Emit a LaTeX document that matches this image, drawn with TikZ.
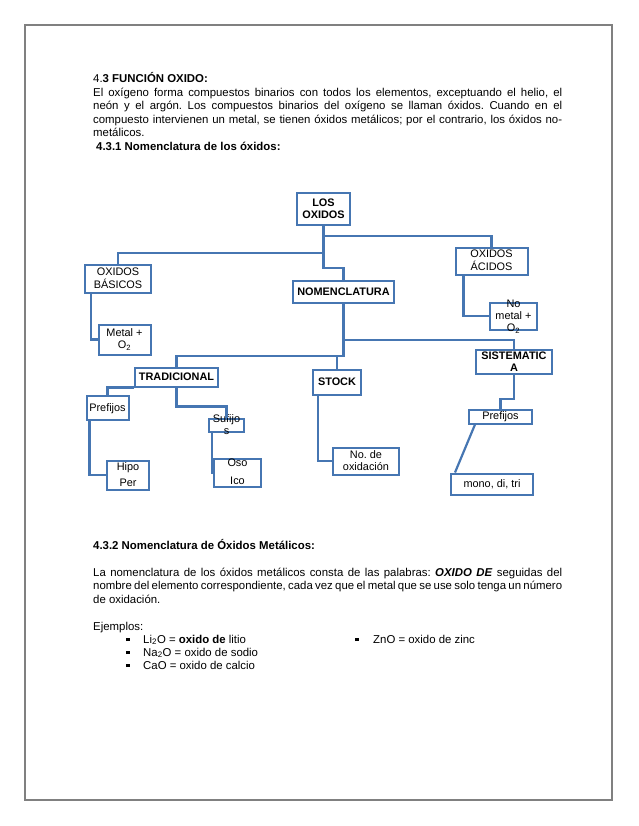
\documentclass[tikz,border=0pt]{standalone}
\usepackage{fontspec}
\setmainfont{Liberation Sans}
\frenchspacing
\definecolor{lb}{RGB}{70,118,178}
\definecolor{pg}{RGB}{128,128,128}
\newcommand\tx[2][-3.8pt]{\smash{\raisebox{#1}{\begin{tabular}[c]{@{}c@{}}#2\end{tabular}}}}
\newcommand\bul{\rule[2pt]{3.4pt}{3.4pt}}
\begin{document}
\begin{tikzpicture}[x=1pt,y=-1pt,
  bx/.style={draw=lb, line width=2pt, fill=white, inner sep=0pt,
    font=\fontsize{10.9}{12}\selectfont},
  cn/.style={draw=lb, line width=2.2pt},
  bt/.style={anchor=base west, inner sep=0pt, font=\fontsize{11.4}{13.7}\selectfont}]
\useasboundingbox (0,0) rectangle (638,826);
\draw[pg, line width=1.3pt] (25,25) rectangle (612,800);

% text, top
\node[bt] (h1) at (93,83) {4.\textbf{3 FUNCIÓN OXIDO:}};
\node[bt] (p1) at (93,96.5) {\makebox[469pt][s]{El oxígeno forma compuestos binarios con todos los elementos, exceptuando el helio, el}};
\node[bt] (p2) at (93,110) {\makebox[469pt][s]{neón y el argón. Los compuestos binarios del oxígeno se llaman óxidos. Cuando en el}};
\node[bt] (p3) at (93,123.5) {\makebox[469pt][s]{compuesto intervienen un metal, se tienen óxidos metálicos; por el contrario, los óxidos no-}};
\node[bt] (p4) at (93,137) {metálicos.};
\node[bt] (h2) at (96,151) {\textbf{4.3.1 Nomenclatura de los óxidos:}};

% diagram nodes
\node[bx, minimum width=53, minimum height=32] (los) at (323.5,209) {\tx{\textbf{LOS}\\\textbf{OXIDOS}}};
\node[bx, minimum width=66, minimum height=28] (bas) at (118,279) {\tx{OXIDOS\\BÁSICOS}};
\node[bx, minimum width=72, minimum height=27] (acid) at (491.5,261) {\tx{OXIDOS\\ÁCIDOS}};
\node[bx, minimum width=101, minimum height=22] (nom) at (343.5,292) {\tx{\textbf{NOMENCLATURA}}};
\node[bx, minimum width=52, minimum height=30] (metal) at (124.5,339.5) {\tx{Metal +\\O\textsubscript{2}}};
\node[bx, minimum width=47, minimum height=27] (nometal) at (513.5,316) {\tx{No\\metal +\\O\textsubscript{2}}};
\node[bx, minimum width=83, minimum height=19] (trad) at (176.5,377) {\tx{\textbf{TRADICIONAL}}};
\node[bx, minimum width=48, minimum height=25] (stock) at (337,382) {\tx{\textbf{STOCK}}};
\node[bx, minimum width=76, minimum height=24] (sis) at (514,362) {\tx{\textbf{SISTEMATIC}\\\textbf{A}}};
\node[bx, minimum width=42, minimum height=24] (pre1) at (107.5,408) {\tx{Prefijos}};
\node[bx, minimum width=35, minimum height=13] (suf) at (226.5,425) {\tx{Sufijo\\s}};
\node[bx, minimum width=42, minimum height=29] (hipo) at (128,475) {\tx{Hipo\\[4pt]Per}};
\node[bx, minimum width=47, minimum height=28] (oso) at (237.5,472.5) {\tx{Oso\\[6pt]Ico}};
\node[bx, minimum width=66, minimum height=27] (nox) at (366,461) {\tx{No. de\\oxidación}};
\node[bx, minimum width=63, minimum height=14] (pre2) at (500.5,416.5) {\tx{Prefijos}};
\node[bx, minimum width=82, minimum height=21] (mono) at (492,484) {\tx{mono, di, tri}};

% connectors
\draw[cn] (los.south) -- ++(0,42) -| (nom.north);
\draw[cn] (los.south) -- ++(0,27) -| (bas.north);
\draw[cn] (los.south) -- ++(0,10) -| (acid.north);
\draw[cn] ([xshift=7pt]bas.south west) |- (metal.west);
\draw[cn] ([xshift=9pt]acid.south west) |- (nometal.west);
\draw[cn] (nom.south) -- ++(0,36) -| (sis.north);
\draw[cn] (nom.south) -- ++(0,52) -| (trad.north);
\draw[cn] (nom.south) -- ++(0,52) -| (stock.north);
\draw[cn] (trad.south west) -| (pre1.north);
\draw[cn] (trad.south) -- ++(0,19) -| (suf.north);
\draw[cn] ([xshift=4pt]pre1.south west) |- (hipo.west);
\draw[cn] ([xshift=4pt]suf.south west) |- (oso.west);
\draw[cn] ([xshift=6pt]stock.south west) |- (nox.west);
\draw[cn] (sis.south) -- ++(0,24) -| (pre2.north);
\draw[cn] ([xshift=7pt]pre2.south west) -- ([xshift=5pt]mono.north west);

% text, bottom
\node[bt] (h3) at (93,549) {\textbf{4.3.2 Nomenclatura de Óxidos Metálicos:}};
\node[bt] (q1) at (93,576) {\makebox[469pt][s]{La nomenclatura de los óxidos metálicos consta de las palabras: \textbf{\textit{OXIDO DE}} seguidas del}};
\node[bt] (q2) at (93,589.5) {\makebox[469pt][s]{nombre del elemento correspondiente, cada vez que el metal que se use solo tenga un número}};
\node[bt] (q3) at (93,603) {de oxidación.};
\node[bt] (ej) at (93,630) {Ejemplos:};
\node[bt] (b1) at (126,643) {\bul};
\node[bt] (e1) at (143,643) {Li\textsubscript{2}O = \textbf{oxido de} litio};
\node[bt] (b2) at (126,656) {\bul};
\node[bt] (e2) at (143,656) {Na\textsubscript{2}O = oxido de sodio};
\node[bt] (b3) at (126,669) {\bul};
\node[bt] (e3) at (143,669) {CaO = oxido de calcio};
\node[bt] (b4) at (355,643) {\bul};
\node[bt] (e4) at (373,643) {ZnO = oxido de zinc};
\end{tikzpicture}
\end{document}
